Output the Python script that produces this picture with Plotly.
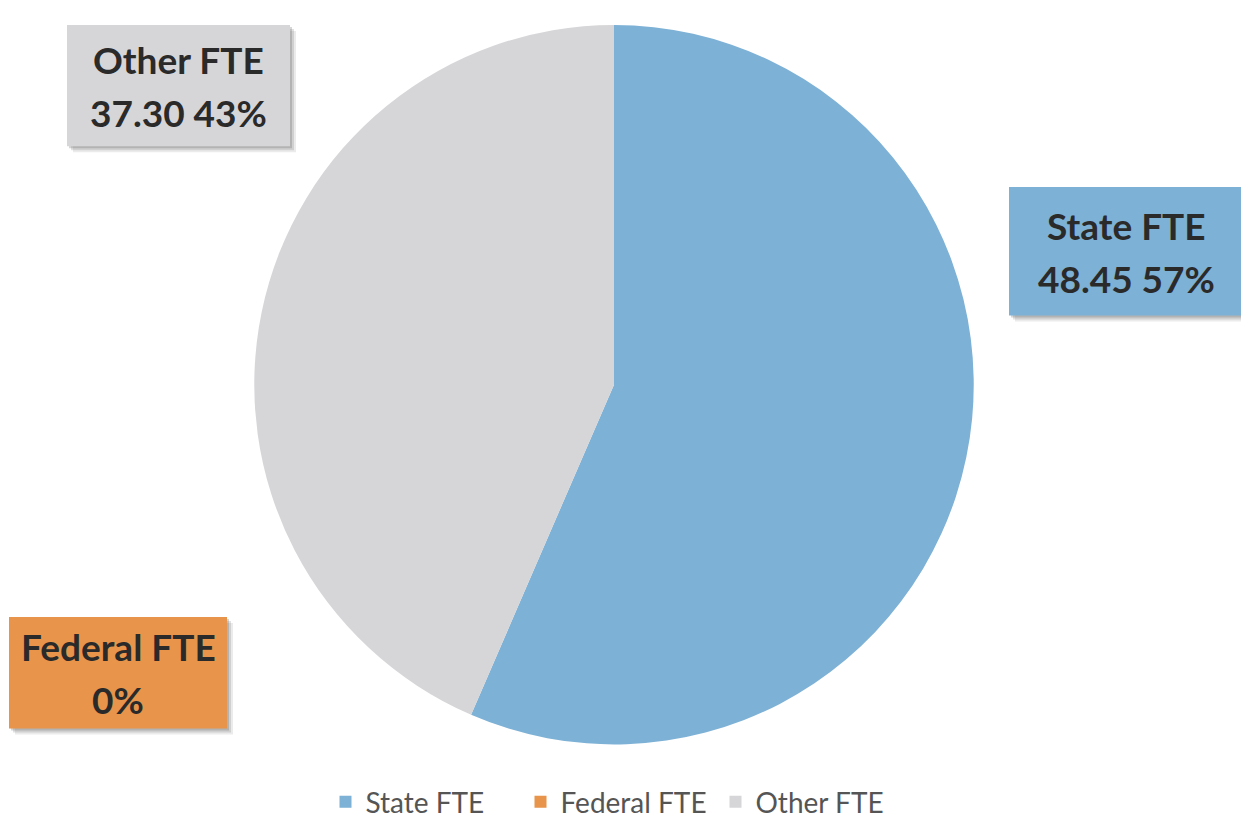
import plotly.graph_objects as go

# page body has an 8px margin; reference coordinates are page pixels
OFF = 8
FW, FH = 1249 - 2 * OFF, 835 - 2 * OFF

categories = ["State FTE", "Federal FTE", "Other FTE"]
values = [48.45, 0.0, 37.30]
line1_texts = ["State FTE", "Federal FTE", "Other FTE"]
line2_texts = ["48.45 57%", "0%", "37.30 43%"]
colors = ["#7DB1D5", "#E8944A", "#D6D6D9"]


def px_x(px):
    return (px - OFF) / FW


def px_y(py):
    return 1 - (py - OFF) / FH


fig = go.Figure(go.Pie(
    labels=categories,
    values=values,
    sort=False,
    direction="clockwise",
    rotation=0,
    textinfo="none",
    hoverinfo="label+value+percent",
    marker=dict(colors=colors, line=dict(width=0)),
    domain=dict(x=[px_x(OFF), px_x(1220)], y=[px_y(748), px_y(25)]),
    showlegend=True,
))

# label boxes: (left, top, right, bottom) in page px
boxes = {
    "State FTE": (1009, 188, 1243, 317),
    "Federal FTE": (9, 620, 227, 732),
    "Other FTE": (67, 25, 290, 147),
}

shapes = []
annotations = []
font_lbl = dict(family="Lato, Open Sans, sans-serif", size=37, color="#2A2A2A")
for cat, t1, t2, col in zip(categories, line1_texts, line2_texts, colors):
    x0, y0, x1, y1 = boxes[cat]
    for d, a in ((6, 0.12), (4, 0.18), (2, 0.25)):
        shapes.append(dict(
            type="rect", xref="paper", yref="paper",
            x0=px_x(x0 + d), x1=px_x(x1 + d), y0=px_y(y1 + d), y1=px_y(y0 + d),
            fillcolor="rgba(90,90,90,%.2f)" % a, line=dict(width=0), layer="above",
        ))
    shapes.append(dict(
        type="rect", xref="paper", yref="paper",
        x0=px_x(x0), x1=px_x(x1), y0=px_y(y1), y1=px_y(y0),
        fillcolor=col, line=dict(width=0), layer="above",
    ))
    cx = (x0 + x1) / 2
    cy = (y0 + y1) / 2
    for txt, dy in ((t1, -26), (t2, 27)):
        annotations.append(dict(
            xref="paper", yref="paper", x=px_x(cx), y=px_y(cy + dy),
            xanchor="center", yanchor="middle",
            text="<b>" + txt + "</b>", showarrow=False, font=font_lbl,
        ))

fig.update_layout(
    width=FW, height=FH,
    margin=dict(l=0, r=0, t=0, b=0),
    paper_bgcolor="white",
    plot_bgcolor="white",
    shapes=shapes,
    annotations=annotations,
    legend=dict(
        orientation="h", x=px_x(618), xanchor="center",
        y=px_y(806), yanchor="middle",
        font=dict(family="Lato, Open Sans, sans-serif", size=28, color="#555555"),
        itemwidth=30, traceorder="normal", entrywidth=150, entrywidthmode="pixels",
    ),
)

fig.write_html("out.html")
